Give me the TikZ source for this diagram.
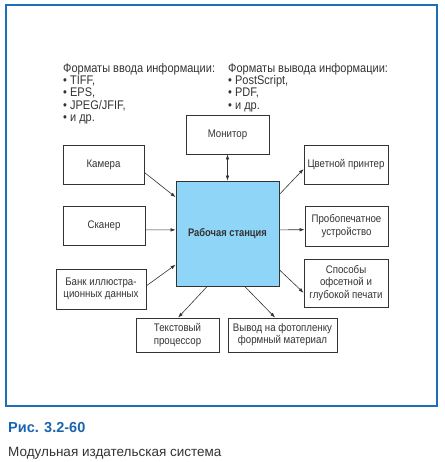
\documentclass[tikz,border=0pt]{standalone}
\usepackage{fontspec}
\setmainfont{Liberation Sans}[FakeStretch=0.88]
\newfontfamily\capfont{Liberation Sans}
\newfontfamily\wsfont{Liberation Sans}[FakeStretch=0.85]
\usepackage{xcolor}
\usepackage{tikz}
\usetikzlibrary{arrows.meta}
\definecolor{framblue}{HTML}{1F6FB5}
\definecolor{capblue}{HTML}{1A64B0}
\definecolor{wsfill}{HTML}{8FD5F7}
\definecolor{ink}{HTML}{333333}
\begin{document}
\begin{tikzpicture}[
  x=1pt, y=-1pt,
  font=\fontsize{11}{12.3}\selectfont,
  box/.style={draw=ink, line width=0.8pt, inner sep=0pt, align=center, text=ink},
  wsbox/.style={box, fill=wsfill, font=\wsfont\fontsize{11}{12.3}\selectfont\bfseries},
  fmt/.style={anchor=north west, inner sep=0pt, align=left, text=ink, font=\fontsize{12.5}{12.25}\selectfont},
  tip/.style={Latex[length=5pt,width=3.5pt]},
  link/.style={draw=ink, line width=0.6pt, -{Latex[length=5pt,width=3.5pt]}}
]
\useasboundingbox (0,0) rectangle (444,462);
\draw[framblue, line width=1.2pt] (6,5) rectangle (437,406);
\node[fmt] (infmt) at (63,63) {Форматы ввода информации:\\• TIFF,\\• EPS,\\• JPEG/JFIF,\\• и др.};
\node[fmt] (outfmt) at (228,63) {Форматы вывода информации:\\• PostScript,\\• PDF,\\• и др.};
\node[wsbox, minimum width=103pt, minimum height=105pt] (ws) at (227.5,233.5) {Рабочая станция};
\node[box, minimum width=83pt, minimum height=39pt] (mon) at (227.5,134.5) {Монитор};
\node[box, minimum width=81pt, minimum height=39pt] (cam) at (103.5,164.5) {Камера};
\node[box, minimum width=82pt, minimum height=39pt] (scan) at (104,225.5) {Сканер};
\node[box, minimum width=90pt, minimum height=40pt] (bank) at (101,289) {Банк иллюстра-\\ционных данных};
\node[box, minimum width=84pt, minimum height=39pt] (color) at (346,164.5) {Цветной принтер};
\node[box, minimum width=83pt, minimum height=40pt] (proof) at (346.5,226) {Пробопечатное\\устройство};
\node[box, minimum width=84pt, minimum height=48pt] (press) at (346,283) {Способы\\офсетной и\\глубокой печати};
\node[box, minimum width=83pt, minimum height=34pt] (word) at (177.5,335) {Текстовый\\процессор};
\node[box, minimum width=109pt, minimum height=34pt] (film) at (282.5,335) {Вывод на фотопленку\\формный материал};
\draw[draw=ink, line width=0.6pt, {Latex[length=5pt,width=3.5pt]}-{Latex[length=5pt,width=3.5pt]}] (mon.south) -- (ws.north);
\draw[link] (cam.-11) -- (ws.145);
\draw[link] (scan.-6) -- (ws.176);
\draw[link] (bank.4) -- (ws.211);
\draw[link] (ws.37) -- (color.186);
\draw[link] (ws.4) -- (proof.185);
\draw[link] (ws.-35) -- (press.193);
\draw[link] (ws.-111) -- (word.88);
\draw[link] (ws.-72) -- (film.113);
\node[anchor=base west, inner sep=0pt, text=capblue, font=\capfont\fontsize{14.5}{16}\selectfont\bfseries] (fig) at (8,432) {Рис. 3.2-60};
\node[anchor=base west, inner sep=0pt, text=ink, font=\capfont\fontsize{13.5}{16}\selectfont] (title) at (8,456) {Модульная издательская система};
\end{tikzpicture}
\end{document}
